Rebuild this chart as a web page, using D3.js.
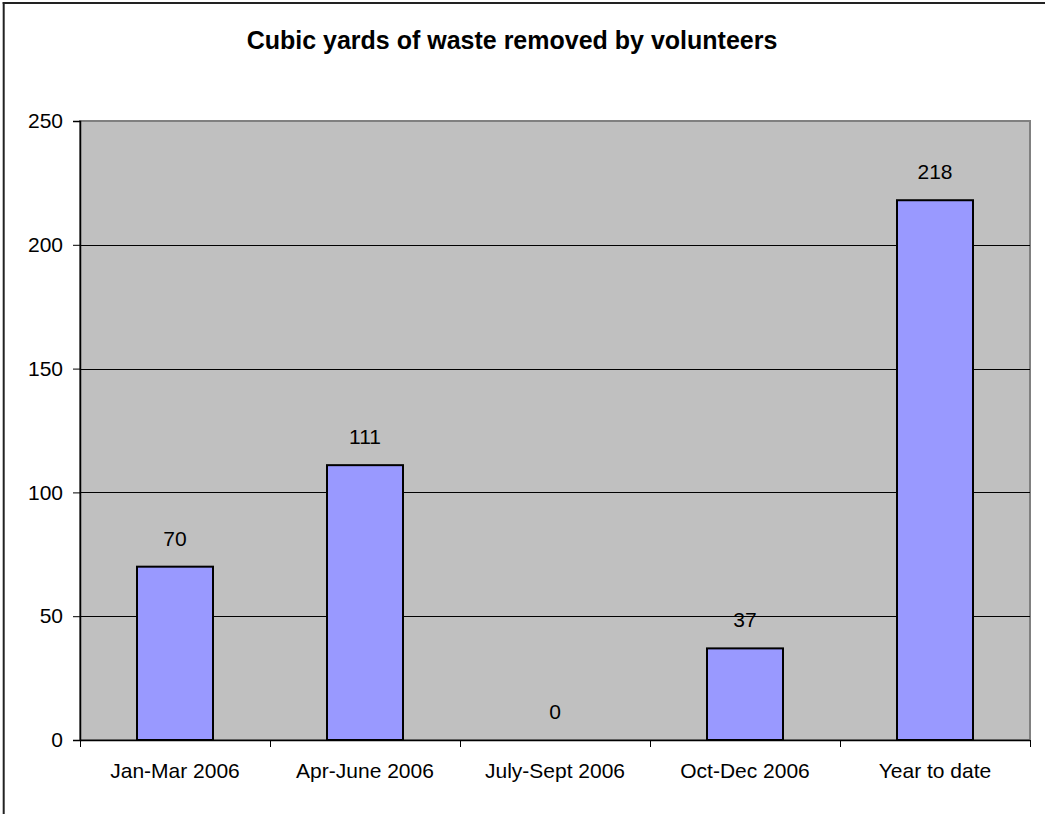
<!DOCTYPE html>
<html>
<head>
<meta charset="utf-8">
<script src="https://cdn.jsdelivr.net/npm/d3@7"></script>
<style>
  html, body { margin: 0; padding: 0; background: #fff; }
  svg { display: block; }
  text { font-family: "Liberation Sans", Arial, sans-serif; fill: #000; }
</style>
</head>
<body>
<svg id="chart" width="1045" height="814"></svg>
<script>
// Quarterly volunteer cleanup totals
const categories = ["Jan-Mar 2006", "Apr-June 2006", "July-Sept 2006", "Oct-Dec 2006", "Year to date"];
const values = [70, 111, 0, 37, 218];
const yTicks = [0, 50, 100, 150, 200, 250];
const title = "Cubic yards of waste removed by volunteers";

const svg = d3.select("#chart");
const W = 1045, H = 814;
const plot = { left: 80, top: 121, right: 1030, bottom: 740 };
const labelSize = 21;

// Chart frame (left and top edges only)
svg.append("line").attr("x1", 3.7).attr("y1", 2).attr("x2", 3.7).attr("y2", H)
  .attr("stroke", "#222").attr("stroke-width", 2);
svg.append("line").attr("x1", 2.7).attr("y1", 3).attr("x2", W).attr("y2", 3)
  .attr("stroke", "#222").attr("stroke-width", 2);

const x = d3.scaleBand().domain(categories)
  .range([plot.left, plot.right]).paddingInner(0.6).paddingOuter(0.3);
const y = d3.scaleLinear().domain([0, 250]).range([plot.bottom, plot.top]);

// Plot background
svg.append("rect")
  .attr("x", plot.left).attr("y", plot.top)
  .attr("width", plot.right - plot.left).attr("height", plot.bottom - plot.top)
  .attr("fill", "#c0c0c0").attr("stroke", "#808080").attr("stroke-width", 2);

// Horizontal gridlines
svg.append("g").selectAll("line").data(yTicks.filter(d => d > 0 && d < 250)).join("line")
  .attr("x1", plot.left).attr("x2", plot.right)
  .attr("y1", d => Math.round(y(d)) + 0.5).attr("y2", d => Math.round(y(d)) + 0.5)
  .attr("stroke", "#000").attr("stroke-width", 1);

const rows = values.map((v, i) => ({ c: categories[i], v }));

// Bars
svg.append("g").selectAll("rect").data(rows.filter(d => d.v > 0))
  .join("rect")
  .attr("x", d => x(d.c)).attr("width", x.bandwidth())
  .attr("y", d => y(d.v)).attr("height", d => y(0) - y(d.v))
  .attr("fill", "#9999ff").attr("stroke", "#000").attr("stroke-width", 2);

// Value labels
svg.append("g").selectAll("text").data(rows)
  .join("text")
  .attr("x", d => x(d.c) + x.bandwidth() / 2)
  .attr("y", d => y(d.v) - 21)
  .attr("text-anchor", "middle")
  .attr("font-size", labelSize)
  .text(d => d.v);

// Y axis
const yAxis = d3.axisLeft(y).tickValues(yTicks).tickSize(7).tickPadding(10).tickFormat(d3.format("d"));
const gy = svg.append("g").attr("transform", `translate(${plot.left},0)`).call(yAxis);
gy.select(".domain").attr("stroke", "#000").attr("stroke-width", 1.5);
gy.selectAll(".tick line").attr("stroke", "#000");
gy.selectAll(".tick text").attr("font-size", labelSize)
  .attr("font-family", "Liberation Sans, Arial, sans-serif").attr("fill", "#000");

// X axis with ticks between categories
const gx = svg.append("g").attr("transform", `translate(0,${plot.bottom})`);
gx.append("line").attr("x1", plot.left).attr("x2", plot.right).attr("y1", 0.5).attr("y2", 0.5)
  .attr("stroke", "#000").attr("stroke-width", 1.5);
const bounds = categories.map(c => x(c) - x.step() * 0.3).concat([plot.right]);
gx.selectAll("line.tk").data(bounds).join("line").attr("class", "tk")
  .attr("x1", d => Math.round(d) + 0.5).attr("x2", d => Math.round(d) + 0.5)
  .attr("y1", 0).attr("y2", 7).attr("stroke", "#000");
gx.selectAll("text").data(categories).join("text")
  .attr("x", d => x(d) + x.bandwidth() / 2)
  .attr("y", 38)
  .attr("text-anchor", "middle")
  .attr("font-size", labelSize)
  .text(d => d);

// Title
svg.append("text").attr("x", 512).attr("y", 49)
  .attr("text-anchor", "middle").attr("font-size", 25).attr("font-weight", "bold")
  .text(title);
</script>
</body>
</html>
